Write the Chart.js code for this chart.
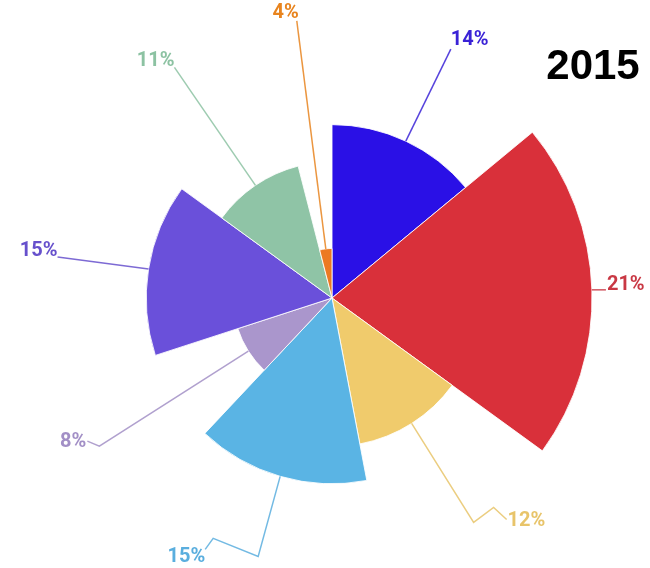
<!DOCTYPE html>
<html>
<head>
<meta charset="utf-8">
<title>2015</title>
<script src="https://cdn.jsdelivr.net/npm/chart.js@4"></script>
<style>
  html, body { margin: 0; padding: 0; background: #fff; }
  #wrap { width: 650px; height: 568px; position: relative; }
</style>
</head>
<body>
<div id="wrap"><canvas id="rose"></canvas></div>
<script>
// parts of the year, clockwise from the top
const labels = ['A', 'B', 'C', 'D', 'E', 'F', 'G', 'H'];
const shares = [14, 21, 12, 15, 8, 15, 11, 4];
const yearTitle = '2015';

// colours of the slices and of their labels
const fillColors = ['#2a10e6', '#d9303a', '#f0cb6c', '#5ab4e4', '#aa96cc', '#6a50da', '#8fc4a6', '#ec7a22'];
const textColors = ['#3a22d6', '#c93844', '#e8c46a', '#5aaede', '#a28fc6', '#6650cc', '#8cc2a2', '#e8841e'];

// leader lines: bends relative to the outer edge of each slice
const leaders = [
  [[45, -92]],
  [[14, 0]],
  [[62, 99], [82, 84], [95, 96]],
  [[-22, 80], [-67, 62], [-75, 73]],
  [[-149, 95], [-161, 90]],
  [[-91, -12]],
  [[-81, -118]],
  [[-29, -228]]
];
// where the text sits against the end of its line
const labelSide = ['up', 'rightUp', 'right', 'below', 'left', 'leftUp', 'leftUp', 'upLeft'];

const leaderPlugin = {
  id: 'leaders',
  afterDatasetsDraw(chart) {
    const ctx = chart.ctx;
    const meta = chart.getDatasetMeta(0);
    ctx.save();
    meta.data.forEach((arc, i) => {
      const mid = (arc.startAngle + arc.endAngle) / 2;
      const x0 = arc.x + Math.cos(mid) * arc.outerRadius;
      const y0 = arc.y + Math.sin(mid) * arc.outerRadius;
      ctx.strokeStyle = textColors[i];
      ctx.globalAlpha = 0.85;
      ctx.lineWidth = 1.5;
      ctx.beginPath();
      ctx.moveTo(x0, y0);
      let ex = x0, ey = y0;
      leaders[i].forEach(p => {
        ex = x0 + p[0];
        ey = y0 + p[1];
        ctx.lineTo(ex, ey);
      });
      ctx.stroke();
      ctx.globalAlpha = 1;

      ctx.fillStyle = textColors[i];
      ctx.font = 'bold 20px Roboto';
      const txt = shares[i] + '%';
      const side = labelSide[i];
      if (side === 'up') {
        ctx.textAlign = 'left'; ctx.textBaseline = 'bottom';
        ctx.fillText(txt, ex, ey + 1);
      } else if (side === 'upLeft') {
        ctx.textAlign = 'right'; ctx.textBaseline = 'bottom';
        ctx.fillText(txt, ex + 2, ey + 2);
      } else if (side === 'rightUp') {
        ctx.textAlign = 'left'; ctx.textBaseline = 'alphabetic';
        ctx.fillText(txt, ex + 1, ey);
      } else if (side === 'right') {
        ctx.textAlign = 'left'; ctx.textBaseline = 'middle';
        ctx.fillText(txt, ex + 1, ey + 2);
      } else if (side === 'left') {
        ctx.textAlign = 'right'; ctx.textBaseline = 'middle';
        ctx.fillText(txt, ex - 1, ey + 1);
      } else if (side === 'below') {
        ctx.textAlign = 'right'; ctx.textBaseline = 'middle';
        ctx.fillText(txt, ex, ey + 8);
      } else {
        ctx.textAlign = 'right'; ctx.textBaseline = 'alphabetic';
        ctx.fillText(txt, ex, ey - 1);
      }
    });

    // year in the top right corner
    ctx.fillStyle = '#000';
    ctx.font = 'bold 42px "Liberation Sans"';
    ctx.textAlign = 'center';
    ctx.textBaseline = 'alphabetic';
    ctx.fillText(yearTitle, 593, 79);
    ctx.restore();
  }
};

new Chart(document.getElementById('rose'), {
  type: 'polarArea',
  data: {
    labels: labels,
    datasets: [{
      data: shares,
      backgroundColor: fillColors,
      borderColor: 'rgba(255,255,255,0.85)',
      borderWidth: 1,
      // each slice is as wide as its share of the circle
      angle: c => shares[c.dataIndex] * 3.6
    }]
  },
  options: {
    responsive: true,
    maintainAspectRatio: false,
    animation: false,
    layout: { padding: { left: 67, right: 53, top: 33, bottom: 5 } },
    plugins: {
      legend: { display: false },
      tooltip: { enabled: false },
      title: { display: false }
    },
    scales: {
      r: {
        display: false,
        min: 0,
        max: 21.4,
        startAngle: 0
      }
    }
  },
  plugins: [leaderPlugin]
});
</script>
</body>
</html>
